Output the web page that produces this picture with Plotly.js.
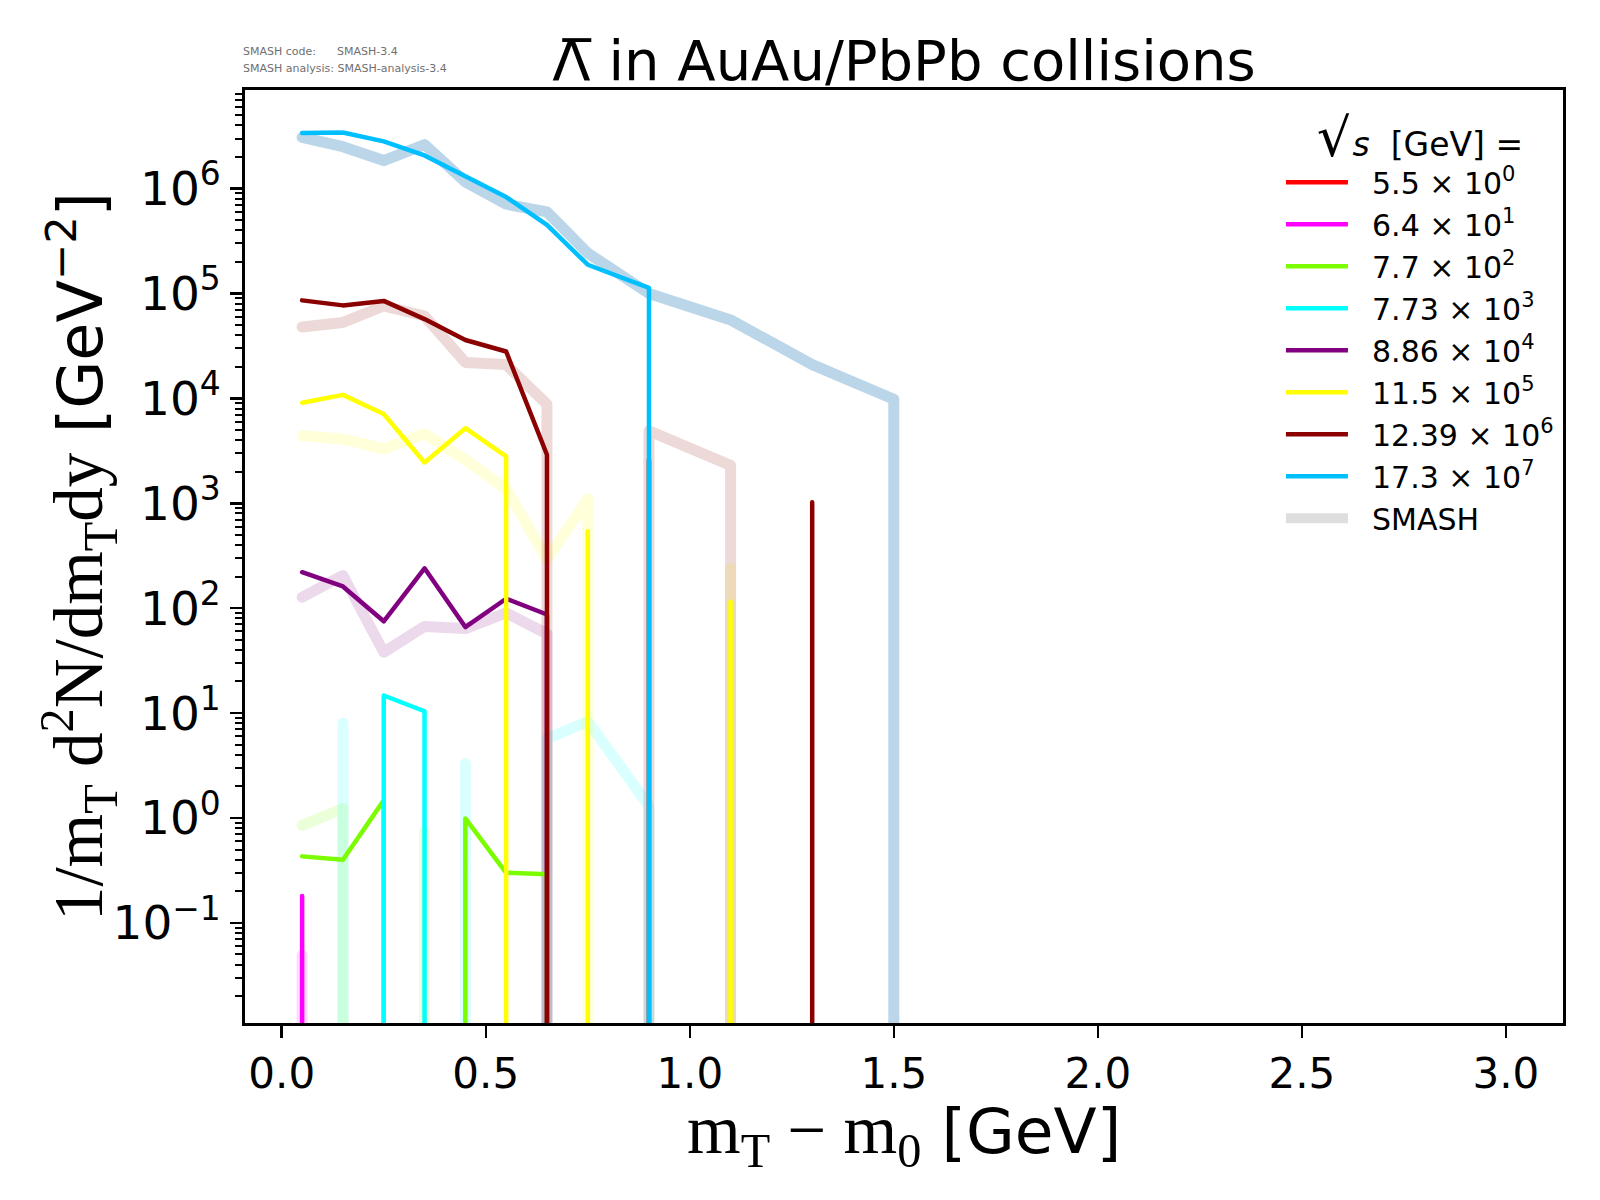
<!DOCTYPE html>
<html>
<head>
<meta charset="utf-8">
<script src="https://cdn.plot.ly/plotly-3.0.1.min.js"></script>
<style>
  body { margin: 0; background: #fff; }
  #chart { width: 1600px; height: 1200px; }
  #chart .scatterlayer .js-line { stroke-linejoin: round; stroke-linecap: round; }
</style>
</head>
<body>
<div id="chart"></div>
<script>
// m_T - m_0 bins [GeV]
const mT = [0.05, 0.15, 0.25, 0.35, 0.45, 0.55, 0.65, 0.75, 0.9, 1.1, 1.3, 1.5, 1.7];

// sqrt(s) [GeV] and the 10^n scaling shown in the legend
const energies = ['5.5', '6.4', '7.7', '7.73', '8.86', '11.5', '12.39', '17.3'];
const scalePow = [0, 1, 2, 3, 4, 5, 6, 7];
const colors = ['#ff0000', '#ff00ff', '#7cfc00', '#00ffff', '#800080', '#ffff00', '#8b0000', '#00bfff'];
const smashColors = ['rgba(255,0,0,0.15)', 'rgba(255,0,255,0.15)', 'rgba(124,252,0,0.15)', 'rgba(0,255,255,0.15)',
                     'rgba(128,0,128,0.15)', 'rgba(255,255,0,0.15)', 'rgba(139,0,0,0.15)', 'rgba(31,119,180,0.3)'];

// measured spectra (already scaled), 0 = empty bin
const data_5p5  = [0, 0, 0, 0, 0, 0, 0, 0, 0, 0, 0, 0, 0];
const data_6p4  = [0.18, 0, 0, 0, 0, 0, 0, 0, 0, 0, 0, 0, 0];
const data_7p7  = [0.43, 0.40, 1.47, 0, 0.99, 0.30, 0.29, 0, 0, 0, 0, 0, 0];
const data_7p73 = [0, 0, 14.7, 10.4, 0, 0, 0, 0, 0, 0, 0, 0, 0];
const data_8p86 = [220, 161, 75, 240, 66, 123, 87, 0, 0, 0, 0, 0, 0];
const data_11p5 = [9.1e3, 1.08e4, 7.1e3, 2.45e3, 5.2e3, 2.8e3, 0, 540, 0, 115, 0, 0, 0];
const data_12p39 = [8.6e4, 7.7e4, 8.5e4, 5.7e4, 3.6e4, 2.8e4, 2.9e3, 0, 2.6e3, 0, 1.02e3, 0, 0];
const data_17p3 = [3.39e6, 3.43e6, 2.82e6, 2.07e6, 1.31e6, 8.3e5, 4.5e5, 1.88e5, 1.13e5, 0, 0, 0, 0];

// SMASH results, same scaling
const smash_5p5  = [0, 0, 0, 0, 0, 0, 0, 0, 0, 0, 0, 0, 0];
const smash_6p4  = [0.049, 0, 0, 0, 0, 0, 0, 0, 0, 0, 0, 0, 0];
const smash_7p7  = [0.85, 1.23, 0, 0.74, 0, 0, 0, 0, 0, 0, 0, 0, 0];
const smash_7p73 = [0, 8, 0, 0, 3.3, 0, 5.7, 8.3, 1.3, 0, 0, 0, 0];
const smash_8p86 = [127, 205, 38, 67, 64, 90, 57, 0, 0, 0, 0, 0, 0];
const smash_11p5 = [4.4e3, 4.1e3, 3.3e3, 4.6e3, 2.6e3, 1.37e3, 295, 1.1e3, 0, 240, 0, 0, 0];
const smash_12p39 = [4.8e4, 5.3e4, 7.6e4, 6.1e4, 2.2e4, 2.1e4, 8.8e3, 0, 4.9e3, 2.3e3, 0, 0, 0];
const smash_17p3 = [3.08e6, 2.51e6, 1.85e6, 2.63e6, 1.16e6, 7.1e5, 6.0e5, 2.43e5, 1.0e5, 5.6e4, 2.1e4, 9.8e3, 0];

const dataSets = [data_5p5, data_6p4, data_7p7, data_7p73, data_8p86, data_11p5, data_12p39, data_17p3];
const smashSets = [smash_5p5, smash_6p4, smash_7p7, smash_7p73, smash_8p86, smash_11p5, smash_12p39, smash_17p3];

const yTickVals = [0.1, 1, 10, 100, 1e3, 1e4, 1e5, 1e6];
const yTickText = ['10<sup>\u22121</sup>', '10<sup>0</sup>', '10<sup>1</sup>', '10<sup>2</sup>',
                   '10<sup>3</sup>', '10<sup>4</sup>', '10<sup>5</sup>', '10<sup>6</sup>'];
const xTickVals = [0, 0.5, 1, 1.5, 2, 2.5, 3];
const xTickText = ['0.0', '0.5', '1.0', '1.5', '2.0', '2.5', '3.0'];

// empty bins: the line drops straight down out of the log axis, like matplotlib's clipping
const FLOOR = 1e-3;
function dropPath(xs, ys){
    let px = [], py = [];
    for (let i = 0; i < ys.length; i++) {
        if (ys[i] > 0) {
            px.push(xs[i]); py.push(ys[i]);
        } else {
            if (i > 0 && ys[i-1] > 0) { px.push(xs[i-1]); py.push(FLOOR); }
            if (i < ys.length-1 && ys[i+1] > 0) { px.push(xs[i+1]); py.push(FLOOR); }
        }
    }
    if (px.length == 0) { px = [null]; py = [null]; }
    return {x: px, y: py};
}

// minor log ticks 2..9 x 10^n
let minorVals = [];
for (let p = -2; p <= 6; p++) {
    for (let m = 2; m <= 9; m++) minorVals.push(m * Math.pow(10, p));
}

const pad2 = '\u00a0\u00a0';

let traces = [];
for (let i = 0; i < smashSets.length; i++) {
    let p = dropPath(mT, smashSets[i]);
    traces.push({
        x: p.x, y: p.y, type: 'scatter', mode: 'lines',
        line: {color: smashColors[i], width: 11},
        showlegend: false, hoverinfo: 'skip'
    });
}
for (let i = 0; i < dataSets.length; i++) {
    let p = dropPath(mT, dataSets[i]);
    traces.push({
        x: p.x, y: p.y, type: 'scatter', mode: 'lines',
        name: pad2 + energies[i] + ' \u00d7 10<sup>' + scalePow[i] + '</sup>',
        line: {color: colors[i], width: 4.5}
    });
}
// legend proxy for the SMASH band
traces.push({
    x: [null], y: [null], type: 'scatter', mode: 'lines', name: pad2 + 'SMASH',
    line: {color: '#dedede', width: 11}
});

const serif = 'Liberation Serif, DejaVu Serif, serif';
const sans = 'DejaVu Sans, sans-serif';

let layout = {
    width: 1600,
    height: 1200,
    margin: {l: 245, r: 37, t: 90, b: 177, pad: 0},
    paper_bgcolor: '#ffffff',
    plot_bgcolor: '#ffffff',
    font: {family: sans, color: '#000'},
    title: {
        text: '\u039b\u0305 in AuAu/PbPb collisions',
        font: {family: sans, size: 56, color: '#000'},
        x: 0.5, xref: 'paper', xanchor: 'center',
        y: 0.95, yref: 'container', yanchor: 'middle'
    },
    xaxis: {
        range: [-0.09, 3.14],
        tickmode: 'array', tickvals: xTickVals, ticktext: xTickText,
        ticks: 'outside', ticklen: 12, tickwidth: 2.5, tickcolor: '#000',
        showline: true, linecolor: '#000', linewidth: 2.8, mirror: true,
        showgrid: false, zeroline: false,
        tickfont: {family: sans, size: 42, color: '#000'},
        automargin: false
    },
    yaxis: {
        type: 'log',
        range: [-1.955, 6.94],
        tickmode: 'array', tickvals: yTickVals, ticktext: yTickText,
        ticks: 'outside', ticklen: 12, tickwidth: 2.5, tickcolor: '#000',
        minor: {tickmode: 'array', tickvals: minorVals, ticks: 'outside', ticklen: 7, tickwidth: 2, tickcolor: '#000', showgrid: false},
        showline: true, linecolor: '#000', linewidth: 2.8, mirror: true,
        showgrid: false, zeroline: false,
        tickfont: {family: sans, size: 47, color: '#000'},
        automargin: false
    },
    legend: {
        x: 0.786, y: 0.975, xanchor: 'left', yanchor: 'top',
        bgcolor: 'rgba(0,0,0,0)', borderwidth: 0,
        itemwidth: 62,
        font: {family: sans, size: 30, color: '#000'},
        title: {
            text: '<span style="font-size:56px">\u221a</span><i>s</i>  [GeV] =',
            font: {family: sans, size: 33, color: '#000'}, side: 'top center'
        },
        tracegroupgap: 0
    },
    annotations: [
        // axis labels placed by hand to sit where the reference has them
        {text: '<span style="font-family:' + serif + ';font-size:69px">m<sub>T</sub> \u2212 m<sub>0</sub></span> [GeV]',
         xref: 'paper', yref: 'paper', x: 0.5, y: -0.12, xanchor: 'center', yanchor: 'middle',
         showarrow: false, font: {family: sans, size: 63, color: '#000'}},
        {text: '<span style="font-family:' + serif + ';font-size:69px">1/m<sub>T</sub> d<sup>2</sup>N/dm<sub>T</sub>dy</span> [GeV<sup>\u22122</sup>]',
         xref: 'paper', yref: 'paper', x: -0.127, y: 0.5, xanchor: 'center', yanchor: 'middle', textangle: -90,
         showarrow: false, font: {family: sans, size: 62, color: '#000'}},
        {text: 'SMASH code:\u00a0\u00a0\u00a0\u00a0\u00a0\u00a0SMASH-3.4', xref: 'paper', yref: 'paper',
         x: -0.003, y: 1.0416, xanchor: 'left', yanchor: 'middle', showarrow: false,
         font: {family: sans, size: 11, color: '#707070'}},
        {text: 'SMASH analysis: SMASH-analysis-3.4', xref: 'paper', yref: 'paper',
         x: -0.003, y: 1.0235, xanchor: 'left', yanchor: 'middle', showarrow: false,
         font: {family: sans, size: 11, color: '#707070'}}
    ]
};

Plotly.newPlot('chart', traces, layout, {displayModeBar: false, staticPlot: true});
</script>
</body>
</html>
